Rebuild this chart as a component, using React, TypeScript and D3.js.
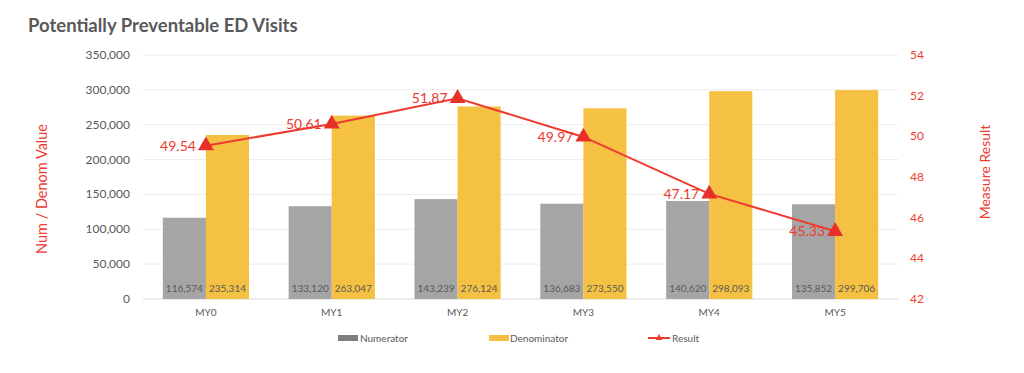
import { useEffect, useRef } from 'react';
import * as d3 from 'd3';

const categories = ['MY0', 'MY1', 'MY2', 'MY3', 'MY4', 'MY5'];
const numerator = [116574, 133120, 143239, 136683, 140620, 135852];
const denominator = [235314, 263047, 276124, 273550, 298093, 299706];
const result = [49.54, 50.61, 51.87, 49.97, 47.17, 45.33];
const leftTicks = [0, 50000, 100000, 150000, 200000, 250000, 300000, 350000];
const rightTicks = [42, 44, 46, 48, 50, 52, 54];

export default function App() {
  const ref = useRef<SVGSVGElement>(null);

  useEffect(() => {
    if (!ref.current) return;
    const svg = d3.select(ref.current);
    svg.selectAll('*').remove();

    const font = 'Lato, "Open Sans", sans-serif';
    const grey = '#595959';
    const red = '#ee3b2f';
    const left = 143, right = 898, top = 55, bottom = 299;

    const x = d3.scaleBand().domain(categories).range([left, right]);
    const inner = d3.scaleBand().domain(['num', 'den']).range([0, x.bandwidth()]).paddingOuter(0.46);
    const yL = d3.scaleLinear().domain([0, 350000]).range([bottom, top]);
    const yR = d3.scaleLinear().domain([42, 54]).range([bottom, top]);

    // Title
    svg.append('text')
      .attr('x', 28).attr('y', 32)
      .attr('font-family', font).attr('font-size', 18.5).attr('font-weight', 'bold')
      .attr('fill', grey)
      .text('Potentially Preventable ED Visits');

    // Gridlines
    svg.append('g').selectAll('line').data(leftTicks).enter().append('line')
      .attr('x1', left).attr('x2', right)
      .attr('y1', d => yL(d)).attr('y2', d => yL(d))
      .attr('stroke', d => d === 0 ? '#d9d9d9' : '#ececec').attr('stroke-width', 1);

    // Left ticks
    svg.append('g').selectAll('text').data(leftTicks).enter().append('text')
      .attr('x', 130).attr('y', d => yL(d) + 4)
      .attr('text-anchor', 'end')
      .attr('font-family', font).attr('font-size', 12).attr('fill', grey)
      .text(d => d3.format(',')(d));

    // Right ticks
    svg.append('g').selectAll('text').data(rightTicks).enter().append('text')
      .attr('x', 910).attr('y', d => yR(d) + 4)
      .attr('font-family', font).attr('font-size', 12).attr('fill', red)
      .text(d => d);

    // Axis titles
    svg.append('text')
      .attr('transform', `translate(47,${(top + bottom) / 2 + 12}) rotate(-90)`)
      .attr('text-anchor', 'middle')
      .attr('font-family', font).attr('font-size', 14.5).attr('fill', red)
      .text('Num / Denom Value');
    svg.append('text')
      .attr('transform', `translate(990,${(top + bottom) / 2 - 5}) rotate(-90)`)
      .attr('text-anchor', 'middle')
      .attr('font-family', font).attr('font-size', 14).attr('fill', red)
      .text('Measure Result');

    // Bars
    const groups = svg.append('g').selectAll('g').data(categories).enter().append('g')
      .attr('transform', d => `translate(${x(d)},0)`);

    groups.append('rect')
      .attr('x', inner('num')!).attr('width', inner.bandwidth())
      .attr('y', (_, i) => yL(numerator[i])).attr('height', (_, i) => bottom - yL(numerator[i]))
      .attr('fill', '#a5a5a5');
    groups.append('rect')
      .attr('x', inner('den')!).attr('width', inner.bandwidth())
      .attr('y', (_, i) => yL(denominator[i])).attr('height', (_, i) => bottom - yL(denominator[i]))
      .attr('fill', '#f5c142');

    groups.append('text')
      .attr('x', inner('num')! + inner.bandwidth() / 2).attr('y', bottom - 7)
      .attr('text-anchor', 'middle')
      .attr('font-family', font).attr('font-size', 10).attr('fill', grey)
      .text((_, i) => d3.format(',')(numerator[i]));
    groups.append('text')
      .attr('x', inner('den')! + inner.bandwidth() / 2).attr('y', bottom - 7)
      .attr('text-anchor', 'middle')
      .attr('font-family', font).attr('font-size', 10).attr('fill', grey)
      .text((_, i) => d3.format(',')(denominator[i]));

    // X labels
    groups.append('text')
      .attr('x', x.bandwidth() / 2).attr('y', 316)
      .attr('text-anchor', 'middle')
      .attr('font-family', font).attr('font-size', 10).attr('fill', grey)
      .text(d => d);

    // Result line
    const cx = (d: string) => x(d)! + x.bandwidth() / 2;
    const line = d3.line<number>()
      .x((_, i) => cx(categories[i]))
      .y(d => yR(d));
    svg.append('path')
      .datum(result)
      .attr('d', line)
      .attr('fill', 'none').attr('stroke', red).attr('stroke-width', 2);

    const tri = d3.symbol().type(d3.symbolTriangle).size(110);
    svg.append('g').selectAll('path').data(result).enter().append('path')
      .attr('d', tri)
      .attr('transform', (d, i) => `translate(${cx(categories[i])},${yR(d)})`)
      .attr('fill', '#e8302a');

    svg.append('g').selectAll('text').data(result).enter().append('text')
      .attr('x', (_, i) => cx(categories[i]) - 10).attr('y', d => yR(d) + 5)
      .attr('text-anchor', 'end')
      .attr('font-family', font).attr('font-size', 14).attr('fill', red)
      .text(d => d.toFixed(2));

    // Legend
    const lg = svg.append('g').attr('font-family', font).attr('font-size', 10).attr('fill', grey);
    lg.append('rect').attr('x', 338).attr('y', 335).attr('width', 20).attr('height', 6).attr('fill', '#7f7f7f');
    lg.append('text').attr('x', 360).attr('y', 342).text('Numerator');
    lg.append('rect').attr('x', 489).attr('y', 335).attr('width', 20).attr('height', 6).attr('fill', '#f5c142');
    lg.append('text').attr('x', 510).attr('y', 342).text('Denominator');
    lg.append('line').attr('x1', 648).attr('x2', 670).attr('y1', 338).attr('y2', 338)
      .attr('stroke', red).attr('stroke-width', 2);
    lg.append('path').attr('d', d3.symbol().type(d3.symbolTriangle).size(20))
      .attr('transform', 'translate(659,338)').attr('fill', red);
    lg.append('text').attr('x', 672).attr('y', 342).text('Result');
  }, []);

  return (
    <div style={{ position: 'absolute', left: 0, top: 0 }}>
      <svg ref={ref} width={1024} height={373} style={{ display: 'block', background: '#fff' }} />
    </div>
  );
}
